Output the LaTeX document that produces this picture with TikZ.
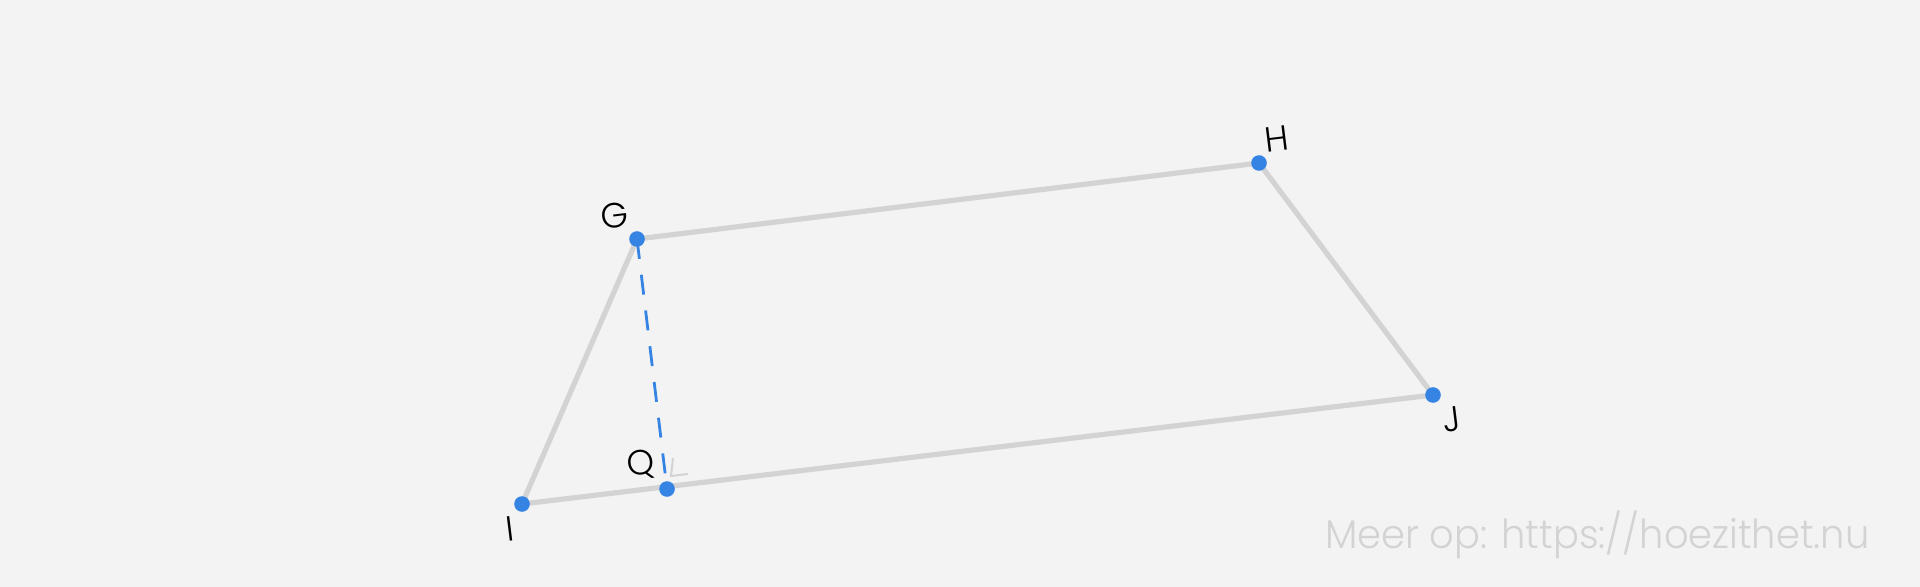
\documentclass[tikz,border=0pt]{standalone}
\usepackage{fontspec}
\setmainfont{Poppins Light}
\usetikzlibrary{positioning,calc}
\definecolor{bgcol}{HTML}{F3F3F3}
\definecolor{edgegray}{HTML}{D3D3D3}
\definecolor{ptblue}{HTML}{3584E4}
\definecolor{wmgray}{HTML}{D3D3D3}

\begin{document}
\begin{tikzpicture}[
    x=0.5pt, y=-0.5pt,
    edge/.style={draw=edgegray, line width=2.6pt, line cap=round},
    perp/.style={draw=ptblue, line width=1.4pt, dash pattern=on 10pt off 8pt},
    rmark/.style={draw=edgegray, line width=1pt},
    dot/.style={circle, fill=ptblue, inner sep=0pt, minimum size=7.8pt},
    lbl/.style={font=\fontsize{17.5}{20}\selectfont, text=black, rotate=7, inner sep=0pt},
    wm/.style={font=\fontsize{20}{24}\selectfont, text=wmgray, anchor=base west, inner sep=0pt, xscale=0.96}
]
    \fill[bgcol] (0,0) rectangle (1920,587);
    \useasboundingbox (0,0) rectangle (1920,587);

    % corner points
    \coordinate (G) at (637,239);
    \coordinate (H) at (1259,163);
    \coordinate (J) at (1433,395);
    \coordinate (I) at (522,504);
    \coordinate (Q) at (667,489);

    % sides
    \draw [edge] (G) -- (H);
    \draw [edge] (H) -- (J);
    \draw [edge] (J) -- (I);
    \draw [edge] (I) -- (G);

    % height and right angle
    \draw [perp] (G) -- (Q);
    \draw [rmark] ($(Q)+(6,-31)$) -- ($(Q)+(4,-13)$) -- ($(Q)+(21,-15)$);

    \node [dot] (dG) at (G) {};
    \node [dot] (dH) at (H) {};
    \node [dot] (dJ) at (J) {};
    \node [dot] (dI) at (I) {};
    \node [dot] (dQ) at (Q) {};

    \node [lbl] (lG) at (615,216) {G};
    \node [lbl] (lH) at (1277,139) {H};
    \node [lbl] (lJ) at (1452,419) {J};
    \node [lbl] (lI) at (510,529) {I};
    \node [lbl] (lQ) at (641,465) {Q};

    \node [wm] (credit) at (1325,548) {Meer op: https://hoezithet.nu};
\end{tikzpicture}
\end{document}
